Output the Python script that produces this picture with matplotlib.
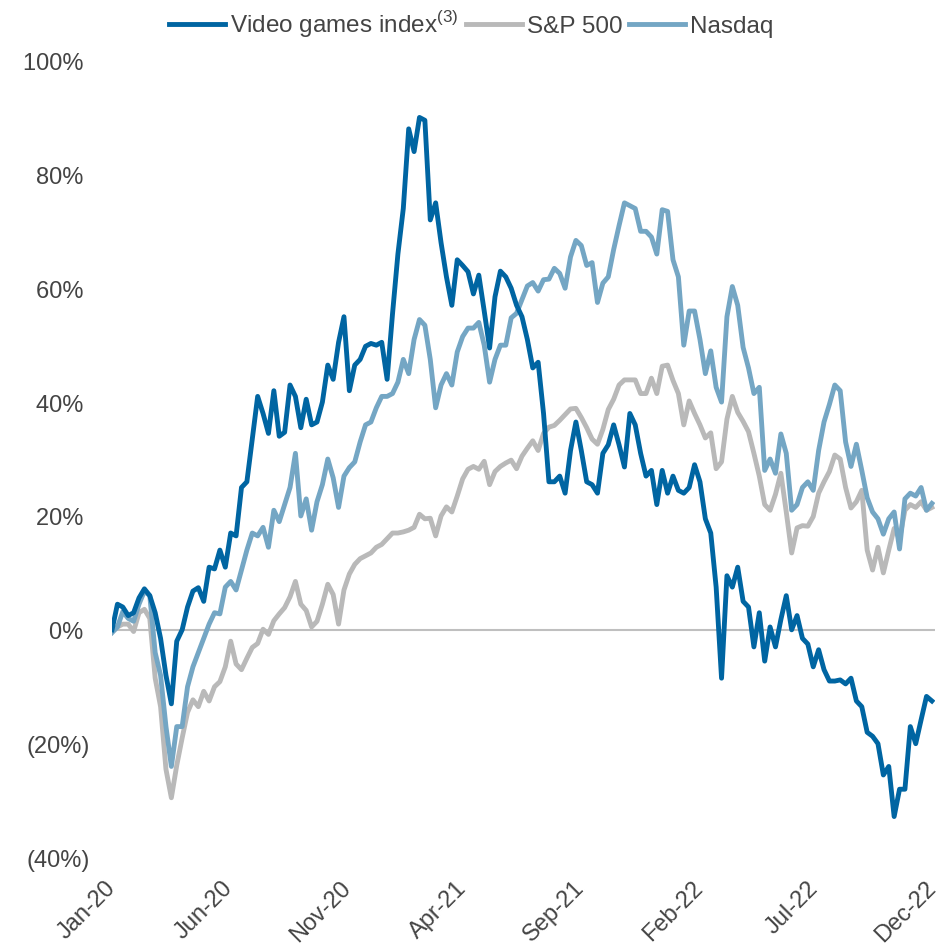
import matplotlib
matplotlib.use("Agg")
import matplotlib.pyplot as plt
import matplotlib.ticker as mticker
import pandas as pd

# weekly closes, % change since the first week of Jan 2020
start_date = "2020-01-03"
n_weeks = 153

video_games = [
    0, 4.5, 4, 2.5, 3, 5.6, 7.2, 6, 3, -1.5,
    -8, -13, -2, 0, 4, 6.8, 7.4, 5, 11, 10.7,
    14, 11, 17, 16.5, 25, 26, 33.5, 41, 38, 34.5,
    42, 34, 34.7, 43, 41, 35.5, 40.5, 36, 36.5, 40,
    46.5, 44, 50.5, 55, 42, 46.5, 47.5, 49.8, 50.3, 50,
    50.5, 44, 55.5, 66, 74, 88, 84, 90, 89.5, 72,
    75, 68, 62, 57, 65, 64, 62.9, 59, 62.3, 56,
    49.5, 58.5, 63, 62, 60, 57, 55, 51, 46, 47,
    38, 26, 26, 27, 24, 31.5, 36.5, 31.5, 26, 25.5,
    24, 31, 32.5, 36, 32.5, 28.6, 38, 36, 31, 27,
    28, 22, 28, 24, 27, 24.5, 24, 25, 29, 26,
    19.5, 17, 7.5, -8.5, 9.5, 7.5, 11, 5, 4, -3,
    3, -5.5, 0.5, -3, 1.8, 6, 0, 2.5, -1.5, -2.5,
    -6.5, -3.5, -7, -9, -9, -8.8, -9.5, -8.5, -12.5, -13.5,
    -18, -18.7, -20, -25.5, -24, -32.8, -28, -28, -17, -20,
    -15.8, -11.7, -12.5,
]

sp500 = [
    -0.4, 0.5, 1, 1, -0.3, 3, 3.6, 2, -8.5, -13.5,
    -24.5, -29.5, -23.8, -19, -14.5, -12.3, -13.5, -10.8, -12.5, -10,
    -9.1, -6.5, -2, -6, -7, -5, -3.1, -2.4, 0.1, -0.8,
    1.6, 2.8, 3.9, 5.8, 8.5, 4.5, 3.4, 0.5, 1.5, 4.5,
    8, 6.2, 1, 7, 9.8, 11.5, 12.5, 13, 13.5, 14.5,
    15, 16, 17, 17, 17.2, 17.5, 18, 20.3, 19.5, 19.6,
    16.5, 20, 21.6, 20.7, 23.5, 26.5, 28.2, 28.7, 28.2, 29.6,
    25.5, 27.8, 28.7, 29.3, 29.8, 28.3, 30.5, 31.9, 33.2, 31.5,
    34.5, 35.6, 35.9, 36.8, 37.8, 38.8, 38.9, 37.3, 35.5, 33.5,
    32.6, 35.2, 38.7, 40.5, 43, 43.9, 43.9, 43.9, 41.5, 41.5,
    44.2, 41.5, 46.3, 46.5, 43.8, 41.5, 36, 40.2, 38, 36,
    33.7, 34.6, 28.3, 29.5, 37, 41, 38.2, 36.6, 34.8, 31,
    27, 22, 21, 23.8, 27.5, 20.7, 13.5, 17.9, 18.3, 18.2,
    19.9, 24, 26, 27.8, 30.7, 30, 25, 21.4, 22.5, 24.5,
    14, 10.5, 14.5, 10, 14, 17.8, 16, 21, 22, 21.5,
    22.5, 21, 21.5,
]

nasdaq = [
    -0.5, 0.5, 3.2, 2, 1.5, 4.5, 6.8, 6, -4, -8,
    -17, -24, -17, -17, -10, -6.5, -4, -1.5, 1, 3,
    2.8, 7.5, 8.5, 7, 10.5, 14, 17, 16.5, 18, 14.5,
    21, 19, 22, 25, 31, 20, 23, 17.5, 22.5, 25.5,
    30, 26.7, 21.5, 27, 28.5, 29.5, 33, 36, 36.5, 39,
    41, 41, 41.5, 43.5, 47.5, 45, 51, 54.5, 53.5, 47.5,
    39, 43, 45, 43, 48.8, 51.5, 53, 53, 54, 50,
    43.5, 47.5, 50, 50, 54.8, 55.6, 58, 60.4, 61, 59.5,
    61.5, 61.6, 63.5, 62.6, 60, 65.5, 68.4, 67.5, 64, 64.5,
    57.5, 60.9, 62, 66.8, 71, 75, 74.5, 74, 70, 70,
    69, 66, 73.8, 73.5, 65, 62, 50, 56, 56, 51,
    45, 49, 42.6, 40, 55, 60.3, 57, 49.6, 46, 41.5,
    42.6, 28, 30, 27.5, 34.4, 31, 21, 22, 25, 26,
    24.5, 31.5, 36.5, 39.6, 43, 42, 33, 28.7, 32.6, 28,
    23.2, 20.7, 19.5, 16.8, 19.5, 20.7, 14.2, 23, 24, 23.5,
    25, 21, 22.2,
]

dates = pd.date_range(start_date, periods=n_weeks, freq="7D")

plt.rcParams["font.family"] = ["Liberation Sans", "DejaVu Sans"]
plt.rcParams["mathtext.fontset"] = "custom"
plt.rcParams["mathtext.rm"] = "Liberation Sans"

text_color = "#444444"
dark_blue = "#0065a2"
light_blue = "#74a6c4"
grey = "#b9b9b9"

fig = plt.figure(figsize=(9.43, 9.45), dpi=100)
ax = fig.add_axes([0.1188, 0.0915, 0.8727, 0.8434])

ax.axhline(0, color="#bfbfbf", lw=1.5, zorder=1)
l_sp, = ax.plot(dates, sp500, color=grey, lw=3.5, zorder=2, label="S&P 500")
l_nq, = ax.plot(dates, nasdaq, color=light_blue, lw=3.5, zorder=3, label="Nasdaq")
l_vg, = ax.plot(dates, video_games, color=dark_blue, lw=3.5, zorder=4,
                label=r"Video games index$^{\mathrm{(3)}}$")

ax.set_ylim(-40, 100)
ax.set_xlim(dates[0], dates[-1] + pd.Timedelta(days=4))
ax.yaxis.set_major_locator(mticker.MultipleLocator(20))


def pct(v, pos):
    v = int(round(v))
    if v < 0:
        return f"({-v}%)"
    return f"{v}% "


ax.yaxis.set_major_formatter(mticker.FuncFormatter(pct))

# a tick every five months, starting on the first date
ticks = [dates[0] + pd.DateOffset(months=5 * k) for k in range(8)]
ax.set_xticks(ticks)
ax.set_xticklabels([t.strftime("%b-%y") for t in ticks], rotation=45,
                   ha="right", va="center", rotation_mode="anchor")

ax.tick_params(axis="both", length=0, labelsize=17, colors=text_color)
ax.tick_params(axis="y", pad=16)
ax.tick_params(axis="x", pad=19)
for s in ax.spines.values():
    s.set_visible(False)

fig.legend(handles=[l_vg, l_sp, l_nq], loc="upper center",
           bbox_to_anchor=(0.5, 1.013), ncol=3, frameon=False,
           fontsize=17.5, handlelength=2.3, handletextpad=0.2,
           columnspacing=0.3, labelcolor=text_color)

fig.savefig("out.png", dpi=100, facecolor="white")
